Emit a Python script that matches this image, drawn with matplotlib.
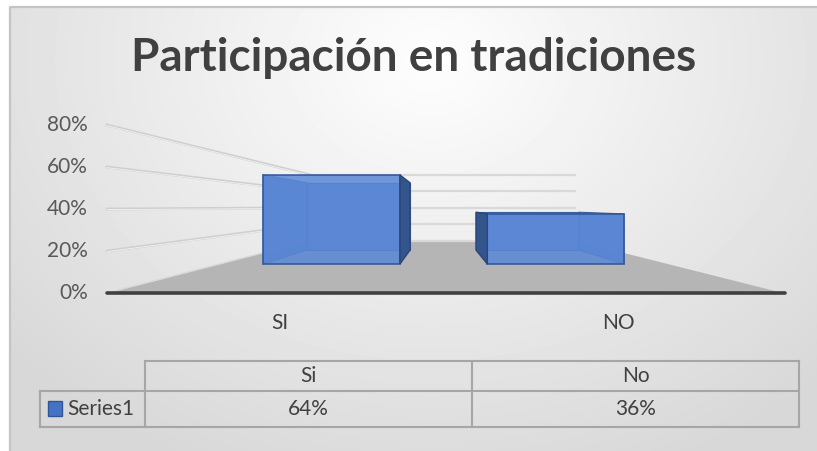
import numpy as np
import matplotlib.pyplot as plt
from matplotlib.patches import Polygon, Rectangle

# data
categories = ["SI", "NO"]
table_cols = ["Si", "No"]
series_name = "Series1"
values = [0.64, 0.36]
ticks = [0, 0.2, 0.4, 0.6, 0.8]

plt.rcParams['font.family'] = ['Lato', 'DejaVu Sans']

W, H = 817, 451
fig = plt.figure(figsize=(W / 100, H / 100), dpi=100)
ax = fig.add_axes([0, 0, 1, 1])
ax.set_xlim(0, W)
ax.set_ylim(H, 0)
ax.axis('off')

# chart area background (soft radial gradient) + border
cx0, cy0 = 10, 7
yy, xx = np.mgrid[cy0:H, cx0:W]
r = np.hypot(xx - 430, (yy - 60) * 1.25)
g = 0.995 - 0.15 * np.clip(r / 560, 0, 1)
ax.imshow(g, cmap='gray', vmin=0, vmax=1, extent=(cx0, W, H, cy0),
          interpolation='bilinear', zorder=0)
ax.plot([cx0, cx0, W], [H, cy0, cy0], color='#c4c4c4', lw=1.6, zorder=1,
        solid_capstyle='butt')

# fake 3d perspective
vp = (441, 207)          # vanishing point
fx0, fx1 = 107, 783      # front plane x range
fy0, ppu = 293, 210      # front plane baseline, px per unit
s_back = 0.392           # depth of the back wall
s_front_bar, s_back_bar = 0.663, 0.5


def proj(xf, v, s):
    yf = fy0 - ppu * v
    return (vp[0] + (xf - vp[0]) * s, vp[1] + (yf - vp[1]) * s)


# floor
floor = [proj(fx0, 0, 1), proj(fx1, 0, 1), proj(fx1, 0, s_back), proj(fx0, 0, s_back)]
ax.add_patch(Polygon(floor, closed=True, facecolor='#b5b5b5', edgecolor='none', zorder=2))

# gridlines on side wall and back wall
for v in ticks:
    p0 = proj(fx0, v, 1)
    p1 = proj(fx0, v, s_back)
    p2 = proj(fx1, v, s_back)
    if v > 0:
        ax.plot([p0[0], p1[0]], [p0[1], p1[1]], color='#cfcfcf', lw=2.0, zorder=2)
        ax.plot([p0[0], p1[0]], [p0[1] + 0.6, p1[1] + 0.6], color='#f2f2f2', lw=0.6, zorder=2)
    else:
        ax.plot([p0[0], p1[0]], [p0[1], p1[1]], color='#d8d8d8', lw=1.0, zorder=2)
    ax.plot([p1[0], p2[0]], [p1[1], p2[1]], color='#d9d9d9', lw=1.6, zorder=2)
    ax.text(88, fy0 - ppu * v, f"{v:.0%}", ha='right', va='center',
            fontsize=15, color='#595959')

# front edge of the floor
ax.plot([fx0, fx1 + 2], [fy0, fy0], color='#404040', lw=2.6, zorder=3,
        solid_capstyle='round')

# bars
cat_w = (fx1 - fx0) / len(values)
edge = '#2f5597'
for i, val in enumerate(values):
    cxf = fx0 + cat_w * (i + 0.5)
    hw = 0.305 * cat_w
    xl, xr = cxf - hw, cxf + hw
    sf, sb = s_front_bar, s_back_bar
    back = [proj(xl, 0, sb), proj(xr, 0, sb), proj(xr, val, sb), proj(xl, val, sb)]
    front = [proj(xl, 0, sf), proj(xr, 0, sf), proj(xr, val, sf), proj(xl, val, sf)]
    if cxf < vp[0]:
        xo, xi = xr, xl
    else:
        xo, xi = xl, xr
    outer = [proj(xo, 0, sf), proj(xo, 0, sb), proj(xo, val, sb), proj(xo, val, sf)]
    inner = [proj(xi, 0, sf), proj(xi, 0, sb), proj(xi, val, sb), proj(xi, val, sf)]
    ax.add_patch(Polygon(back, closed=True, facecolor='#4f7bcc', edgecolor=edge,
                         lw=0.8, alpha=0.9, zorder=4))
    ax.add_patch(Polygon(inner, closed=True, facecolor='#4a76c8', edgecolor=edge,
                         lw=0.8, alpha=0.9, zorder=4))
    ax.add_patch(Polygon(front, closed=True, facecolor='#5b88d6', edgecolor=edge,
                         lw=1.3, alpha=0.86, zorder=5))
    ax.add_patch(Polygon(outer, closed=True, facecolor='#34548e', edgecolor='#2a4678',
                         lw=1.0, zorder=5))
    ax.text(cxf + 4, 323, categories[i], ha='center', va='center', fontsize=15,
            color='#404040')

# title
ax.text(414, 58, "Participación en tradiciones", ha='center', va='center',
        fontsize=33, fontweight='bold', color='#404040')

# data table
col_x = [40, 145, 472, 799]
row_y = [361, 391, 427]
tc = '#a6a6a6'
tlw = 1.5
ax.plot([col_x[1], col_x[3]], [row_y[0], row_y[0]], color=tc, lw=tlw, zorder=3)
ax.plot([col_x[0], col_x[3]], [row_y[1], row_y[1]], color=tc, lw=tlw, zorder=3)
ax.plot([col_x[0], col_x[3]], [row_y[2], row_y[2]], color=tc, lw=tlw, zorder=3)
ax.plot([col_x[0], col_x[0]], [row_y[1], row_y[2]], color=tc, lw=tlw, zorder=3)
for x in col_x[1:]:
    ax.plot([x, x], [row_y[0], row_y[2]], color=tc, lw=tlw, zorder=3)
for j, lab in enumerate(table_cols):
    mx = (col_x[j + 1] + col_x[j + 2]) / 2
    ax.text(mx, (row_y[0] + row_y[1]) / 2, lab, ha='center', va='center',
            fontsize=15, color='#404040')
    ax.text(mx, (row_y[1] + row_y[2]) / 2, f"{values[j]:.0%}", ha='center',
            va='center', fontsize=15, color='#404040')
ax.add_patch(Rectangle((48, 401), 14, 15, facecolor='#4472c4', edgecolor='#2f5597',
                       lw=1.0, zorder=4))
ax.text(67, (row_y[1] + row_y[2]) / 2, series_name, ha='left', va='center',
        fontsize=15, color='#404040')

fig.savefig("out.png", dpi=100)
